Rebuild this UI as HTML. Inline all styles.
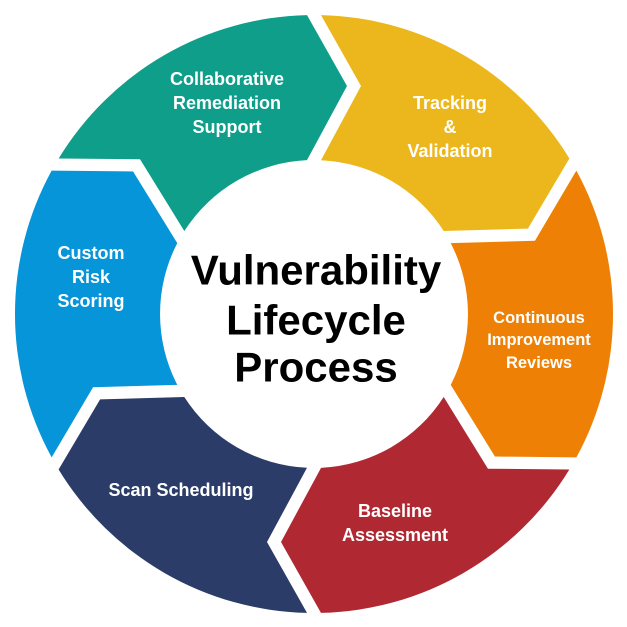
<!DOCTYPE html>
<html><head><meta charset="utf-8"><style>
html,body{margin:0;padding:0;background:#fff;width:627px;height:627px;overflow:hidden;}
svg{display:block;}
text{font-family:"Liberation Sans",sans-serif;font-weight:bold;}
</style></head><body>
<svg width="627" height="627" viewBox="0 0 627 627" xmlns="http://www.w3.org/2000/svg">
<defs>
<path id="seg" d="M7,-298.9 A298.9,298.9 0 0 1 255.4,-155.5 L213.9,-85.4 L129.7,-83 A154,154 0 0 0 7,-153.8 L47,-228 Z"/>
</defs>
<g transform="translate(314,314)">
<use href="#seg" fill="#ecb71d"/>
<use href="#seg" fill="#ee8105" transform="rotate(60)"/>
<use href="#seg" fill="#b02832" transform="rotate(120)"/>
<use href="#seg" fill="#2b3c69" transform="rotate(180)"/>
<use href="#seg" fill="#0595d8" transform="rotate(240)"/>
<use href="#seg" fill="#0f9e8a" transform="rotate(300)"/>
</g>
<g fill="#fff" font-size="18" text-anchor="middle" dominant-baseline="central">
<text x="227" y="79">Collaborative</text>
<text x="227" y="103">Remediation</text>
<text x="227" y="127">Support</text>
<text x="450" y="103">Tracking</text>
<text x="450" y="127">&amp;</text>
<text x="450" y="151">Validation</text>
<text x="91" y="253">Custom</text>
<text x="91" y="277">Risk</text>
<text x="91" y="301">Scoring</text>
<text x="181" y="490">Scan Scheduling</text>
<text x="395" y="511">Baseline</text>
<text x="395" y="535">Assessment</text>
</g>
<g fill="#fff" font-size="16.5" text-anchor="middle" dominant-baseline="central">
<text x="539" y="318">Continuous</text>
<text x="539" y="340">Improvement</text>
<text x="539" y="363">Reviews</text>
</g>
<g fill="#000" font-size="42" text-anchor="middle" dominant-baseline="central">
<text x="316" y="270">Vulnerability</text>
<text x="316" y="320">Lifecycle</text>
<text x="316" y="367">Process</text>
</g>
</svg>
</body></html>
